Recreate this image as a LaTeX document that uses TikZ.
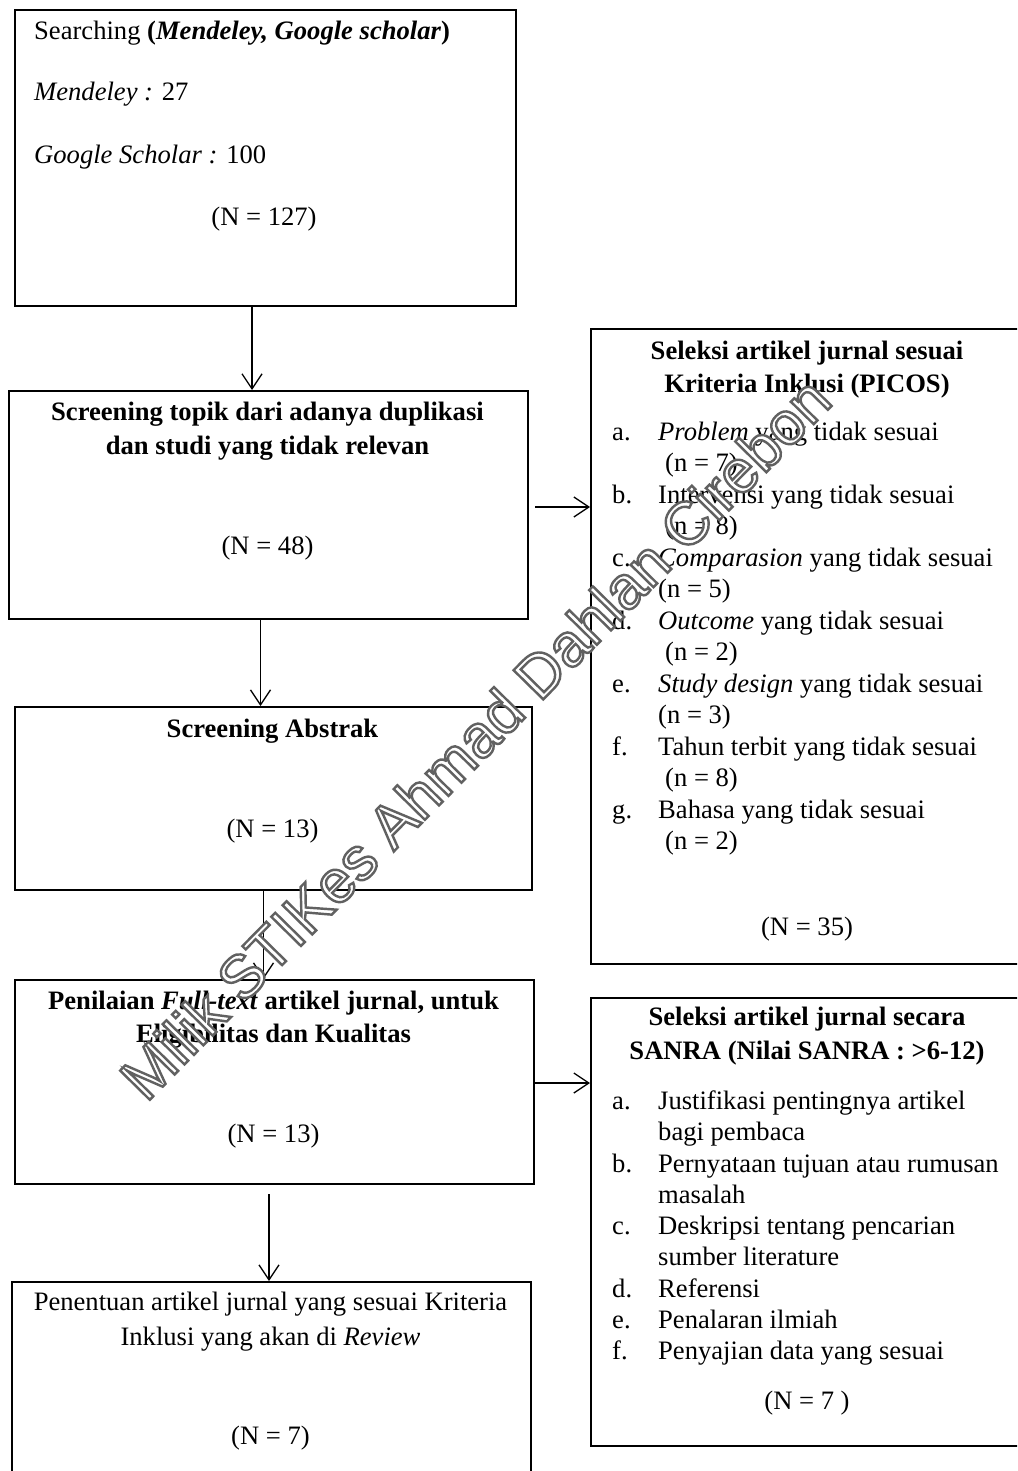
\documentclass[tikz,border=0pt]{standalone}
\usepackage{fontspec}
\setmainfont{Liberation Serif}
\newfontfamily\wmfont[FakeBold=4]{Liberation Sans}
\usetikzlibrary{arrows.meta}
\tikzset{
  box/.style={draw, line width=2.4pt, rectangle, inner sep=0pt, anchor=north west},
  txt/.style={inner sep=0pt, font=\fontsize{26.6}{31.5}\selectfont},
  ltxt/.style={txt, anchor=mid west},
  ctxt/.style={txt, anchor=mid, align=center},
  arr/.style={line width=1.3pt, -{Straight Barb[length=15pt,width=20pt,line width=1.3pt]}},
  wmark/.style={rotate=45.5, inner sep=0pt, font=\wmfont\fontsize{60.5}{60.5}\selectfont}
}
\newcommand\hollowtext[1]{\special{pdf:bcolor [1] [0.38]}#1\special{pdf:ecolor}}
\begin{document}
\begin{tikzpicture}[x=1pt,y=-1pt]
\clip (0,0) rectangle (1017,1471);
\fill[white] (0,0) rectangle (1017,1471);

% ---------- left column boxes ----------
\node[box, minimum width=501.5pt, minimum height=296pt] (b1) at (13.5,9) {};
\node[box, minimum width=519pt, minimum height=228pt] (b2) at (8,390) {};
\node[box, minimum width=517pt, minimum height=183pt] (b3) at (14,706) {};
\node[box, minimum width=519pt, minimum height=204pt] (b4) at (14,979) {};
\node[box, minimum width=519pt, minimum height=220pt] (b5) at (11,1281) {};

% ---------- right column boxes ----------
\node[box, minimum width=434pt, minimum height=635pt] (r1) at (590,328) {};
\node[box, minimum width=434pt, minimum height=448pt] (r2) at (590,997) {};

% ---------- texts box 1 ----------
\node[ltxt] (t1a) at (34,37) {Searching \textbf{(\textit{Mendeley, Google scholar})}};
\node[ltxt] (t1b) at (34,98) {\textit{Mendeley :} 27};
\node[ltxt] (t1c) at (34,161) {\textit{Google Scholar :} 100};
\node[ctxt] (t1d) at (264,223) {(N = 127)};

% ---------- box 2 ----------
\node[ctxt] (t2a) at (267.5,418) {\textbf{Screening topik dari adanya duplikasi}};
\node[ctxt] (t2b) at (267.5,452) {\textbf{dan studi yang tidak relevan}};
\node[ctxt] (t2c) at (267.5,552) {(N = 48)};

% ---------- box 3 ----------
\node[ctxt] (t3a) at (272.5,735) {\textbf{Screening Abstrak}};
\node[ctxt] (t3b) at (272.5,835) {(N = 13)};

% ---------- box 4 ----------
\node[ctxt] (t4a) at (273.5,1007) {\textbf{Penilaian \textit{Full-text} artikel jurnal, untuk}};
\node[ctxt] (t4b) at (273.5,1040) {\textbf{Eligibilitas dan Kualitas}};
\node[ctxt] (t4c) at (273.5,1140) {(N = 13)};

% ---------- box 5 ----------
\node[ctxt] (t5a) at (270.5,1308) {Penentuan artikel jurnal yang sesuai Kriteria};
\node[ctxt] (t5b) at (270.5,1343) {Inklusi yang akan di \textit{Review}};
\node[ctxt] (t5c) at (270.5,1442) {(N = 7)};

% ---------- right box 1 ----------
\node[ctxt] (h1a) at (807,357) {\textbf{Seleksi artikel jurnal sesuai}};
\node[ctxt] (h1b) at (807,390) {\textbf{Kriteria Inklusi (PICOS)}};
\node[ltxt] (la) at (612,438) {a.};
\node[ltxt] (ia) at (658,438) {\textit{Problem} yang tidak sesuai};
\node[ltxt] (na) at (665,469.5) {(n = 7)};
\node[ltxt] (lb) at (612,501) {b.};
\node[ltxt] (ib) at (658,501) {Intervensi yang tidak sesuai};
\node[ltxt] (nb) at (665,532.5) {(n = 8)};
\node[ltxt] (lc) at (612,564) {c.};
\node[ltxt] (ic) at (658,564) {\textit{Comparasion} yang tidak sesuai};
\node[ltxt] (nc) at (658,595.5) {(n = 5)};
\node[ltxt] (ld) at (612,627) {d.};
\node[ltxt] (id) at (658,627) {\textit{Outcome} yang tidak sesuai};
\node[ltxt] (nd) at (665,658.5) {(n = 2)};
\node[ltxt] (le) at (612,690) {e.};
\node[ltxt] (ie) at (658,690) {\textit{Study design} yang tidak sesuai};
\node[ltxt] (ne) at (658,721.5) {(n = 3)};
\node[ltxt] (lf) at (612,753) {f.};
\node[ltxt] (if) at (658,753) {Tahun terbit yang tidak sesuai};
\node[ltxt] (nf) at (665,784.5) {(n = 8)};
\node[ltxt] (lg) at (612,816) {g.};
\node[ltxt] (ig) at (658,816) {Bahasa yang tidak sesuai};
\node[ltxt] (ng) at (665,847.5) {(n = 2)};
\node[ctxt] (n35) at (807,933) {(N = 35)};

% ---------- right box 2 ----------
\node[ctxt] (h2a) at (807,1023) {\textbf{Seleksi artikel jurnal secara}};
\node[ctxt] (h2b) at (807,1057) {\textbf{SANRA (Nilai SANRA : >6-12)}};
\node[ltxt] (sa) at (612,1107) {a.};
\node[ltxt] (sat) at (658,1107) {Justifikasi pentingnya artikel};
\node[ltxt] (sat2) at (658,1138) {bagi pembaca};
\node[ltxt] (sb) at (612,1170) {b.};
\node[ltxt] (sbt) at (658,1170) {Pernyataan tujuan atau rumusan};
\node[ltxt] (sbt2) at (658,1201) {masalah};
\node[ltxt] (sc) at (612,1232) {c.};
\node[ltxt] (sct) at (658,1232) {Deskripsi tentang pencarian};
\node[ltxt] (sct2) at (658,1263) {sumber literature};
\node[ltxt] (sd) at (612,1295) {d.};
\node[ltxt] (sdt) at (658,1295) {Referensi};
\node[ltxt] (se) at (612,1326) {e.};
\node[ltxt] (set) at (658,1326) {Penalaran ilmiah};
\node[ltxt] (sf) at (612,1357) {f.};
\node[ltxt] (sft) at (658,1357) {Penyajian data yang sesuai};
\node[ctxt] (n7) at (807,1407) {(N = 7 )};

% ---------- connectors ----------
\coordinate (x1) at (252,0);
\coordinate (x2) at (260.5,0);
\coordinate (x3) at (263.5,0);
\coordinate (x4) at (269,0);
\coordinate (y1) at (0,507);
\coordinate (y2) at (0,1083);
\coordinate (s4) at ([yshift=-9pt]b4.south);
\coordinate (e2) at ([xshift=6pt]b2.east);

\draw[arr] (b1.south -| x1) -- (b2.north -| x1);
\draw[arr] (b2.south -| x2) -- (b3.north -| x2);
\draw[arr] (b3.south -| x3) -- (b4.north -| x3);
\draw[arr] (s4 -| x4) -- (b5.north -| x4);
\draw[arr] (e2 |- y1) -- (r1.west |- y1);
\draw[arr] (b4.east |- y2) -- (r2.west |- y2);

% ---------- watermark ----------
\node[wmark] (wm) at (475,738) {\hollowtext{Milik STIKes Ahmad Dahlan Cirebon}};
\end{tikzpicture}
\end{document}
